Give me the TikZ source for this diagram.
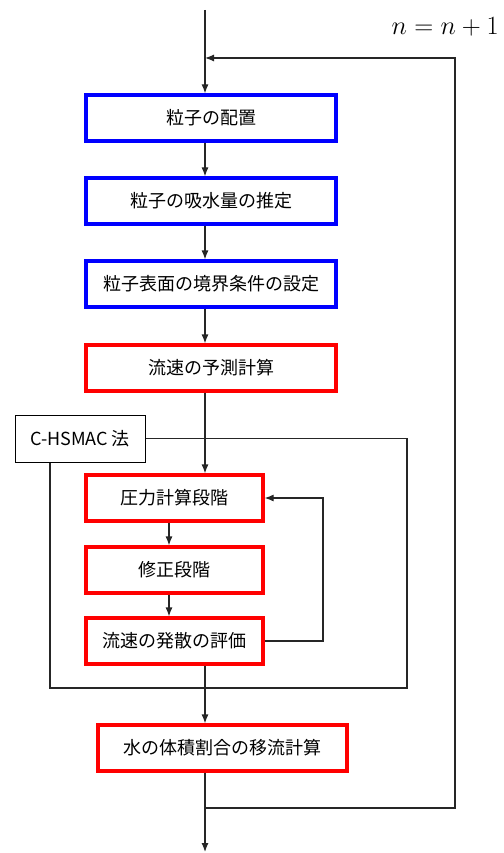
\documentclass[tikz,border=0pt]{standalone}
\usepackage{fontspec}
\setmainfont{Noto Sans CJK JP}
\usetikzlibrary{arrows.meta}
\begin{document}
\begin{tikzpicture}[x=1pt,y=-1pt,
  conn/.style={line width=1.2pt,draw=black!85},
  arr/.style={conn,-{Latex[length=9pt,width=7pt]}},
  bluebox/.style={draw=blue,line width=3.2pt,minimum height=46pt,inner sep=0pt,font=\fontsize{18}{20}\selectfont},
  redbox/.style={draw=red,line width=3.2pt,minimum height=46pt,inner sep=0pt,font=\fontsize{18}{20}\selectfont},
  plainbox/.style={draw=black,line width=1pt,minimum height=47pt,inner sep=0pt,font=\fontsize{18}{20}\selectfont}]
\useasboundingbox (0,0) rectangle (503,853);
\node[bluebox,minimum width=250pt] (b1) at (211,118) {粒子の配置};
\node[bluebox,minimum width=250pt] (b2) at (211,201) {粒子の吸水量の推定};
\node[bluebox,minimum width=250pt] (b3) at (211,284) {粒子表面の境界条件の設定};
\node[redbox,minimum width=250pt] (r1) at (211,368) {流速の予測計算};
\node[plainbox,minimum width=130pt] (c) at (80,438.5) {C-HSMAC 法};
\node[redbox,minimum width=177pt] (p) at (174.5,498) {圧力計算段階};
\node[redbox,minimum width=177pt] (s) at (174.5,570) {修正段階};
\node[redbox,minimum width=177pt] (h) at (174.5,641) {流速の発散の評価};
\node[redbox,minimum width=249pt] (w) at (222.5,748) {水の体積割合の移流計算};
\node[anchor=base east,inner sep=0pt,scale=1.27,font=\fontsize{20.74}{24}\selectfont] (lab) at (499,35) {$n = n + 1$};
\coordinate (top) at (205,10);
\coordinate (bot) at (205,852);
\coordinate (ix) at (169,0);
\coordinate (jn) at (205,808);
\coordinate (rt) at (455,808);
\coordinate (loopin) at (205,58);
% main flow
\draw[arr] (top) -- (top |- b1.north);
\draw[arr] (b1.south -| top) -- (b2.north -| top);
\draw[arr] (b2.south -| top) -- (b3.north -| top);
\draw[arr] (b3.south -| top) -- (r1.north -| top);
\draw[arr] (r1.south -| top) -- (p.north -| top);
\draw[arr] (p.south -| ix) -- (s.north -| ix);
\draw[arr] (s.south -| ix) -- (h.north -| ix);
\draw[arr] (h.east) -- (323,641) |- (p.east);
\draw[arr] (h.south -| top) -- (w.north -| top);
\draw[arr] (w.south -| top) -- (bot);
% outer loop
\draw[arr] (jn) -- (rt) |- (loopin);
% C-HSMAC region
\draw[conn] (c.east) -- (407,438.5) -- (407,688) -- (50,688) -- (c.south -| 50,0);
\end{tikzpicture}
\end{document}
